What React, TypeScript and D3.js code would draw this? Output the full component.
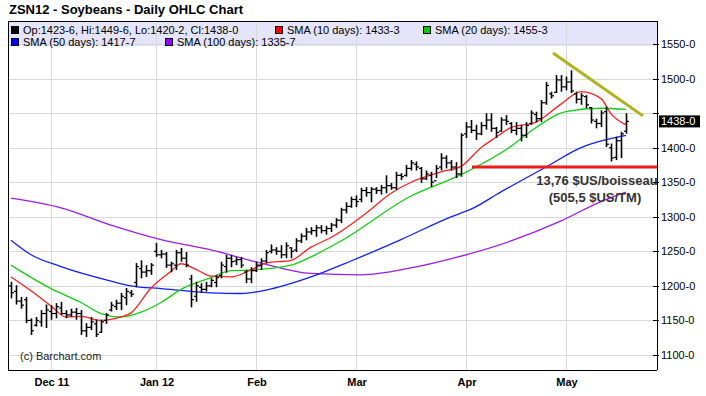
import * as d3 from "d3";

const W = 706;
const H = 396;
const FRAME = { left: 8, right: 657, top: 21, bottom: 370 };

// daily OHLC, Nov 18 2011 .. May 17 2012 (cents/bu)
const highs = [
  1206, 1201, 1184, 1184, 1153, 1155, 1165, 1173, 1172, 1175, 1177, 1165, 1167, 1168, 1165, 1146,
  1155, 1151, 1151, 1161, 1177, 1180, 1190, 1197, 1194, 1233, 1237, 1230, 1233, 1262, 1252, 1249,
  1235, 1252, 1255, 1249, 1216, 1206, 1204, 1206, 1211, 1216, 1235, 1245, 1245, 1242, 1242, 1223,
  1227, 1235, 1240, 1252, 1260, 1256, 1259, 1263, 1256, 1269, 1276, 1284, 1285, 1288, 1288, 1287,
  1291, 1298, 1313, 1321, 1329, 1331, 1342, 1343, 1343, 1343, 1346, 1360, 1349, 1365, 1363, 1375,
  1382, 1380, 1372, 1367, 1365, 1375, 1392, 1389, 1382, 1379, 1421, 1437, 1440, 1433, 1437, 1450,
  1450, 1430, 1444, 1447, 1437, 1437, 1433, 1437, 1454, 1452, 1469, 1495, 1481, 1505, 1505, 1503,
  1512, 1481, 1479, 1476, 1459, 1442, 1454, 1459, 1406, 1416, 1423, 1449.75,
];
const lows = [
  1182, 1173, 1167, 1146, 1129, 1141, 1141, 1139, 1151, 1153, 1158, 1153, 1155, 1151, 1129, 1126,
  1136, 1126, 1132, 1145, 1163, 1165, 1165, 1172, 1184, 1198, 1211, 1213, 1216, 1242, 1240, 1226,
  1220, 1223, 1235, 1227, 1169, 1177, 1190, 1192, 1198, 1198, 1211, 1219, 1227, 1230, 1226, 1204,
  1204, 1220, 1223, 1233, 1247, 1245, 1240, 1240, 1240, 1249, 1262, 1266, 1274, 1271, 1276, 1274,
  1278, 1284, 1291, 1305, 1313, 1314, 1321, 1329, 1321, 1333, 1332, 1334, 1339, 1339, 1353, 1358,
  1367, 1367, 1349, 1353, 1343, 1356, 1367, 1370, 1367, 1356, 1358, 1414, 1421, 1411, 1418, 1426,
  1423, 1414, 1423, 1433, 1421, 1418, 1409, 1414, 1433, 1437, 1437, 1462, 1471, 1479, 1481, 1483,
  1479, 1464, 1462, 1457, 1435, 1428, 1430, 1401, 1380, 1382, 1385, 1420.25,
];
const opens = [
  1200, 1192, 1178, 1180, 1150, 1143, 1148, 1160, 1163, 1160, 1168, 1160, 1158, 1162, 1160, 1135,
  1140, 1145, 1133, 1150, 1165, 1170, 1175, 1183, 1190, 1205, 1225, 1220, 1222, 1250, 1245, 1246,
  1230, 1230, 1248, 1240, 1210, 1185, 1198, 1195, 1200, 1205, 1215, 1228, 1240, 1236, 1238, 1220,
  1210, 1222, 1230, 1236, 1250, 1252, 1250, 1245, 1255, 1252, 1265, 1272, 1278, 1280, 1284, 1280,
  1283, 1288, 1295, 1310, 1315, 1325, 1325, 1338, 1335, 1340, 1338, 1342, 1345, 1342, 1360, 1360,
  1370, 1376, 1370, 1355, 1360, 1352, 1372, 1385, 1378, 1372, 1362, 1420, 1430, 1425, 1420, 1432,
  1440, 1428, 1424, 1440, 1435, 1425, 1428, 1418, 1435, 1448, 1442, 1465, 1478, 1480, 1498, 1488,
  1495, 1478, 1470, 1474, 1458, 1438, 1435, 1452, 1400, 1386, 1410, 1423.75,
];
const closes = [
  1190, 1178, 1172, 1150, 1135, 1150, 1160, 1165, 1160, 1170, 1160, 1158, 1162, 1160, 1135, 1140,
  1148, 1130, 1148, 1158, 1172, 1175, 1185, 1192, 1188, 1228, 1220, 1222, 1230, 1245, 1246, 1230,
  1232, 1248, 1240, 1230, 1180, 1200, 1195, 1200, 1208, 1212, 1230, 1240, 1235, 1238, 1230, 1210,
  1222, 1230, 1236, 1248, 1252, 1250, 1245, 1258, 1250, 1265, 1272, 1278, 1280, 1284, 1280, 1283,
  1288, 1295, 1310, 1315, 1325, 1322, 1338, 1335, 1340, 1338, 1342, 1345, 1342, 1360, 1358, 1370,
  1378, 1372, 1355, 1362, 1350, 1370, 1385, 1378, 1372, 1362, 1418, 1430, 1425, 1420, 1432, 1440,
  1428, 1422, 1440, 1438, 1425, 1428, 1418, 1432, 1450, 1442, 1465, 1490, 1475, 1498, 1488, 1495,
  1482, 1470, 1475, 1462, 1440, 1435, 1450, 1405, 1385, 1410, 1420, 1438,
];

// moving averages, as [bar index, value]
const sma10: [number, number][] = [
  [0, 1213], [4, 1193], [8, 1171], [11, 1155], [14, 1156], [18, 1150], [22, 1155], [24, 1161],
  [28, 1197], [32, 1221], [34, 1232], [37, 1224], [40, 1214], [44, 1213], [48, 1223], [51, 1233],
  [56, 1237], [60, 1256], [64, 1270], [71, 1305], [76, 1334], [80, 1350], [86, 1365], [90, 1373],
  [94, 1400], [97, 1415], [100, 1429], [105, 1437], [110, 1463], [114, 1481], [118, 1471],
  [120, 1449], [123, 1433.3],
];
const sma20: [number, number][] = [
  [0, 1230], [8, 1196], [14, 1176], [18, 1160], [22, 1155], [26, 1162], [30, 1176], [34, 1195],
  [40, 1212], [44, 1222], [48, 1223], [56, 1230], [60, 1242], [66, 1265], [80, 1330], [90, 1361],
  [100, 1402], [104, 1424], [111, 1452], [118, 1457], [123, 1455.3],
];
const sma50: [number, number][] = [
  [0, 1266], [4, 1245], [10, 1228], [20, 1207], [24, 1200], [30, 1196], [40, 1190], [46, 1189],
  [51, 1194], [60, 1213], [68, 1236], [78, 1267], [88, 1300], [92, 1311], [98, 1336], [107, 1372],
  [114, 1400], [123, 1417.7],
];
const sma100: [number, number][] = [
  [0, 1327], [10, 1313], [20, 1288], [30, 1267], [40, 1252], [50, 1233], [60, 1218], [70, 1216],
  [80, 1226], [90, 1243], [100, 1265], [110, 1294], [118, 1322], [123, 1335.7],
];

const monthIdx = [8, 29, 49, 69, 91, 111];
const monthLabels = ["Dec 11", "Jan 12", "Feb", "Mar", "Apr", "May"];
const priceTicks = [1100, 1150, 1200, 1250, 1300, 1350, 1400, 1450, 1500, 1550];

const trendLine: [number, number][] = [[108.4, 1537], [126.4, 1446]];
const supportLevel = 1372;
const supportFrom = 92.2;
const lastPrice = 1438;

const fmt = (v: number) => `${Math.floor(v)}-${Math.round((v % 1) * 8)}`;

const legendRows = [
  [
    { color: "#000000", text: "Op:1423-6, Hi:1449-6, Lo:1420-2, Cl:1438-0", x: 11 },
    { color: "#ff0000", text: "SMA (10 days): 1433-3", x: 275 },
    { color: "#00cc00", text: "SMA (20 days): 1455-3", x: 423 },
  ],
  [
    { color: "#0000ff", text: "SMA (50 days): 1417-7", x: 11 },
    { color: "#9900ff", text: "SMA (100 days): 1335-7", x: 165 },
  ],
];

export default function App() {
  const x = d3.scaleLinear().domain([0, 123]).range([11, 626]);
  const y = d3.scaleLinear().domain([1100, 1550]).range([355, 44]);

  const line = d3
    .line<[number, number]>()
    .x((d) => x(d[0]))
    .y((d) => y(d[1]))
    .curve(d3.curveMonotoneX);

  const smas = [
    { data: sma100, color: "#9b1cf0" },
    { data: sma50, color: "#1020ff" },
    { data: sma20, color: "#10d010" },
    { data: sma10, color: "#ff2020" },
  ];

  // the last-price box hides any axis label it would collide with
  const lastY = y(lastPrice);

  return (
    <svg
      width={W}
      height={H}
      style={{ position: "absolute", left: 0, top: 0, background: "#fff" }}
      fontFamily="'Liberation Sans', Arial, sans-serif"
    >
      <text x={9} y={14} fontSize={13} fontWeight="bold" fill="#000">
        ZSN12 - Soybeans - Daily OHLC Chart
      </text>

      {/* legend band */}
      <rect x={FRAME.left} y={FRAME.top} width={FRAME.right - FRAME.left} height={25} fill="#e4e4fa" />

      {/* grid */}
      {priceTicks.map((t) => (
        <line key={t} x1={FRAME.left} x2={FRAME.right} y1={Math.round(y(t)) + 0.5} y2={Math.round(y(t)) + 0.5} stroke="#d9d9d9" />
      ))}
      {monthIdx.map((i) => (
        <line key={i} x1={Math.round(x(i)) + 0.5} x2={Math.round(x(i)) + 0.5} y1={FRAME.top} y2={FRAME.bottom} stroke="#d9d9d9" />
      ))}

      {legendRows.map((row, r) =>
        row.map((it) => (
          <g key={it.text}>
            <rect x={it.x + 0.5} y={26.5 + r * 12} width={7} height={7} fill={it.color} stroke="#000" strokeWidth={1} />
            <text x={it.x + 12} y={34 + r * 12} fontSize={11} fill="#000">
              {it.text}
            </text>
          </g>
        ))
      )}

      {/* moving averages */}
      {smas.map((s) => (
        <path key={s.color} d={line(s.data) || ""} fill="none" stroke={s.color} strokeWidth={1.3} />
      ))}

      {/* OHLC bars */}
      {highs.map((h, i) => {
        const cx = Math.round(x(i)) + 0.5;
        return (
          <g key={i} stroke="#000" strokeWidth={1.6}>
            <line x1={cx} x2={cx} y1={y(h)} y2={y(lows[i])} />
            <line x1={cx - 2.5} x2={cx} y1={y(opens[i])} y2={y(opens[i])} strokeWidth={1.2} />
            <line x1={cx} x2={cx + 2.5} y1={y(closes[i])} y2={y(closes[i])} strokeWidth={1.2} />
          </g>
        );
      })}

      {/* support line and trend line */}
      <line x1={x(supportFrom)} x2={FRAME.right} y1={y(supportLevel)} y2={y(supportLevel)} stroke="#ee1c1c" strokeWidth={3} />
      <line
        x1={x(trendLine[0][0])}
        y1={y(trendLine[0][1])}
        x2={x(trendLine[1][0])}
        y2={y(trendLine[1][1])}
        stroke="#b0b21a"
        strokeWidth={3}
      />

      <text x={597} y={185} fontSize={13} fontWeight="bold" fill="#333" textAnchor="middle">
        13,76 $US/boisseau
      </text>
      <text x={595} y={202} fontSize={13} fontWeight="bold" fill="#333" textAnchor="middle">
        (505,5 $US/TM)
      </text>

      <text x={20} y={360} fontSize={11} fill="#222">
        (c) Barchart.com
      </text>

      {/* frame */}
      <line x1={FRAME.left + 0.5} x2={FRAME.left + 0.5} y1={FRAME.top} y2={FRAME.bottom} stroke="#000" />
      <line x1={FRAME.left} x2={FRAME.right} y1={FRAME.bottom + 0.5} y2={FRAME.bottom + 0.5} stroke="#000" />
      <line x1={FRAME.right + 0.5} x2={FRAME.right + 0.5} y1={FRAME.top} y2={FRAME.bottom} stroke="#000" />
      <line x1={FRAME.left} x2={FRAME.right} y1={FRAME.top + 0.5} y2={FRAME.top + 0.5} stroke="#000" />

      {/* right axis */}
      {priceTicks.map((t) => (
        <g key={t}>
          <line x1={FRAME.right - 4} x2={FRAME.right + 2} y1={Math.round(y(t)) + 0.5} y2={Math.round(y(t)) + 0.5} stroke="#000" />
          {Math.abs(y(t) - lastY) > 12 && (
            <text x={661} y={y(t) + 4} fontSize={11} fill="#000">
              {fmt(t)}
            </text>
          )}
        </g>
      ))}
      <rect x={659} y={lastY - 6} width={41} height={12} fill="#000" />
      <text x={661} y={lastY + 4} fontSize={11} fill="#fff">
        {fmt(lastPrice)}
      </text>

      {/* bottom axis */}
      {monthIdx.map((i, k) => (
        <text key={i} x={x(i) + 1} y={386} fontSize={11} fontWeight="bold" textAnchor="middle" fill="#000">
          {monthLabels[k]}
        </text>
      ))}
    </svg>
  );
}
